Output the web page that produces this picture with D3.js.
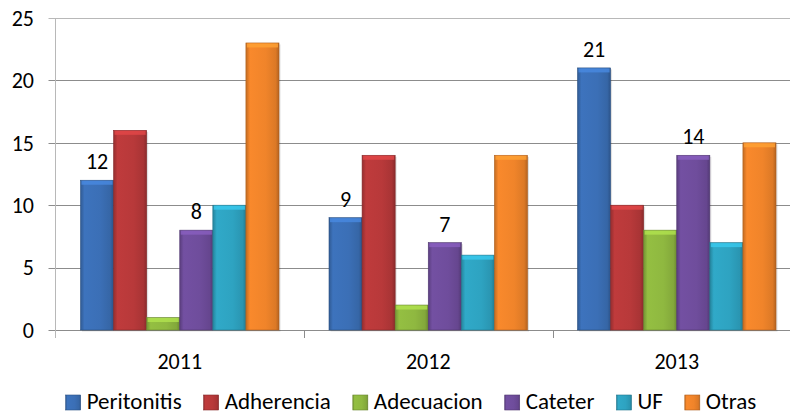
<!DOCTYPE html>
<html>
<head>
<meta charset="utf-8">
<script src="https://cdn.jsdelivr.net/npm/d3@7"></script>
<style>
  body { margin: 0; background: #fff; }
  svg { font-family: Carlito, Calibri, Lato, sans-serif; display: block; }
</style>
</head>
<body>
<div id="chart"></div>
<script>
// Chart data
const years = ["2011", "2012", "2013"];
const seriesNames = ["Peritonitis", "Adherencia", "Adecuacion", "Cateter", "UF", "Otras"];
const peritonitis = [12, 9, 21];
const adherencia = [16, 14, 10];
const adecuacion = [1, 2, 8];
const cateter = [8, 7, 14];
const uf = [10, 6, 7];
const otras = [23, 14, 15];
const yTicks = [0, 5, 10, 15, 20, 25];
// only these series carry value labels in the original
const labelled = ["Peritonitis", "Cateter"];

const seriesValues = [peritonitis, adherencia, adecuacion, cateter, uf, otras];
const colors = ["#3b6fb6", "#b8393a", "#8fb840", "#6f4d9c", "#2ea3c1", "#f0842a"];

const width = 790, height = 415;
const margin = { top: 18, left: 55.5, bottom: 330 };

const svg = d3.select("#chart").append("svg")
  .attr("width", width)
  .attr("height", height);

const defs = svg.append("defs");
colors.forEach((c, i) => {
  const base = d3.color(c);
  const g = defs.append("linearGradient")
    .attr("id", "grad" + i)
    .attr("x1", 0).attr("x2", 1).attr("y1", 0).attr("y2", 0);
  g.append("stop").attr("offset", "0%").attr("stop-color", base.darker(0.6));
  g.append("stop").attr("offset", "12%").attr("stop-color", base.brighter(0.1));
  g.append("stop").attr("offset", "60%").attr("stop-color", base);
  g.append("stop").attr("offset", "90%").attr("stop-color", base.darker(0.25));
  g.append("stop").attr("offset", "100%").attr("stop-color", base.darker(0.8));
});

// Scales
const x0 = d3.scaleBand()
  .domain(years)
  .range([margin.left, 801])
  .paddingInner(0)
  .paddingOuter(0);

const x1 = d3.scaleBand()
  .domain(seriesNames)
  .range([25, x0.bandwidth() - 25]);

const y = d3.scaleLinear()
  .domain([0, 25])
  .range([margin.bottom, margin.top]);

// Gridlines
svg.append("g")
  .selectAll("line")
  .data(yTicks)
  .join("line")
  .attr("x1", margin.left - 7)
  .attr("x2", width)
  .attr("y1", d => Math.round(y(d)) + 0.5)
  .attr("y2", d => Math.round(y(d)) + 0.5)
  .attr("stroke", d => d === 25 ? "#b8b8b8" : "#8c8c8c")
  .attr("stroke-width", 1);

// Left axis line
svg.append("line")
  .attr("x1", margin.left).attr("x2", margin.left)
  .attr("y1", y(25)).attr("y2", margin.bottom + 8)
  .attr("stroke", "#b8b8b8");

// Category tick marks
svg.append("g")
  .selectAll("line")
  .data(years.slice(1))
  .join("line")
  .attr("x1", d => Math.round(x0(d)) + 0.5)
  .attr("x2", d => Math.round(x0(d)) + 0.5)
  .attr("y1", margin.bottom)
  .attr("y2", margin.bottom + 8)
  .attr("stroke", "#8c8c8c");

// Y tick labels
svg.append("g")
  .selectAll("text")
  .data(yTicks)
  .join("text")
  .attr("x", 34)
  .attr("y", d => y(d))
  .attr("dy", "0.35em")
  .attr("text-anchor", "end")
  .attr("font-size", 22)
  .attr("fill", "#000")
  .text(d => d);

// X labels
svg.append("g")
  .selectAll("text")
  .data(years)
  .join("text")
  .attr("x", d => x0(d) + x0.bandwidth() / 2)
  .attr("y", 369)
  .attr("text-anchor", "middle")
  .attr("font-size", 22)
  .text(d => d);

// Bars
const groups = svg.append("g")
  .selectAll("g")
  .data(years)
  .join("g")
  .attr("transform", d => `translate(${x0(d)},0)`);

const barData = (yr, yi) => seriesNames.map((name, si) => ({
  name, si, value: seriesValues[si][yi]
}));

groups.each(function (yr, yi) {
  const g = d3.select(this);
  const bars = barData(yr, yi);
  const bw = x1.bandwidth();

  // shadow
  g.selectAll(".shadow")
    .data(bars)
    .join("rect")
    .attr("x", d => x1(d.name) + 1.5)
    .attr("y", d => y(d.value) + 1.5)
    .attr("width", bw)
    .attr("height", d => y(0) - y(d.value))
    .attr("fill", "rgba(0,0,0,0.12)");

  g.selectAll(".bar")
    .data(bars)
    .join("rect")
    .attr("class", "bar")
    .attr("x", d => x1(d.name))
    .attr("y", d => y(d.value))
    .attr("width", bw)
    .attr("height", d => y(0) - y(d.value))
    .attr("fill", d => `url(#grad${d.si})`)
    .attr("stroke", d => d3.color(colors[d.si]).darker(0.9))
    .attr("stroke-width", 0.6);

  // bevel cap on top
  g.selectAll(".cap")
    .data(bars)
    .join("rect")
    .attr("x", d => x1(d.name) + 1)
    .attr("y", d => y(d.value) + 0.5)
    .attr("width", bw - 2)
    .attr("height", 4)
    .attr("fill", d => d3.color(colors[d.si]).brighter(0.6))
    .attr("opacity", 0.8);

  // value labels
  g.selectAll(".lbl")
    .data(bars.filter(d => labelled.includes(d.name)))
    .join("text")
    .attr("x", d => x1(d.name) + bw / 2)
    .attr("y", d => y(d.value) - 11)
    .attr("text-anchor", "middle")
    .attr("font-size", 22)
    .text(d => d.value);
});

// Legend
const legend = svg.append("g");
const items = legend.selectAll("g")
  .data(seriesNames)
  .join("g");
items.append("rect")
  .attr("y", 395)
  .attr("width", 15)
  .attr("height", 15)
  .attr("fill", (d, i) => `url(#grad${i})`)
  .attr("stroke", (d, i) => d3.color(colors[i]).darker(0.9))
  .attr("stroke-width", 0.6);
items.append("text")
  .attr("x", 21)
  .attr("y", 409)
  .attr("font-size", 23)
  .text(d => d);

let cx = 0;
const offsets = [];
items.each(function () {
  offsets.push(cx);
  cx += 21 + d3.select(this).select("text").node().getComputedTextLength() + 22;
});
const total = cx - 22;
const startX = 411 - total / 2;
items.attr("transform", (d, i) => `translate(${startX + offsets[i]},0)`);
</script>
</body>
</html>
